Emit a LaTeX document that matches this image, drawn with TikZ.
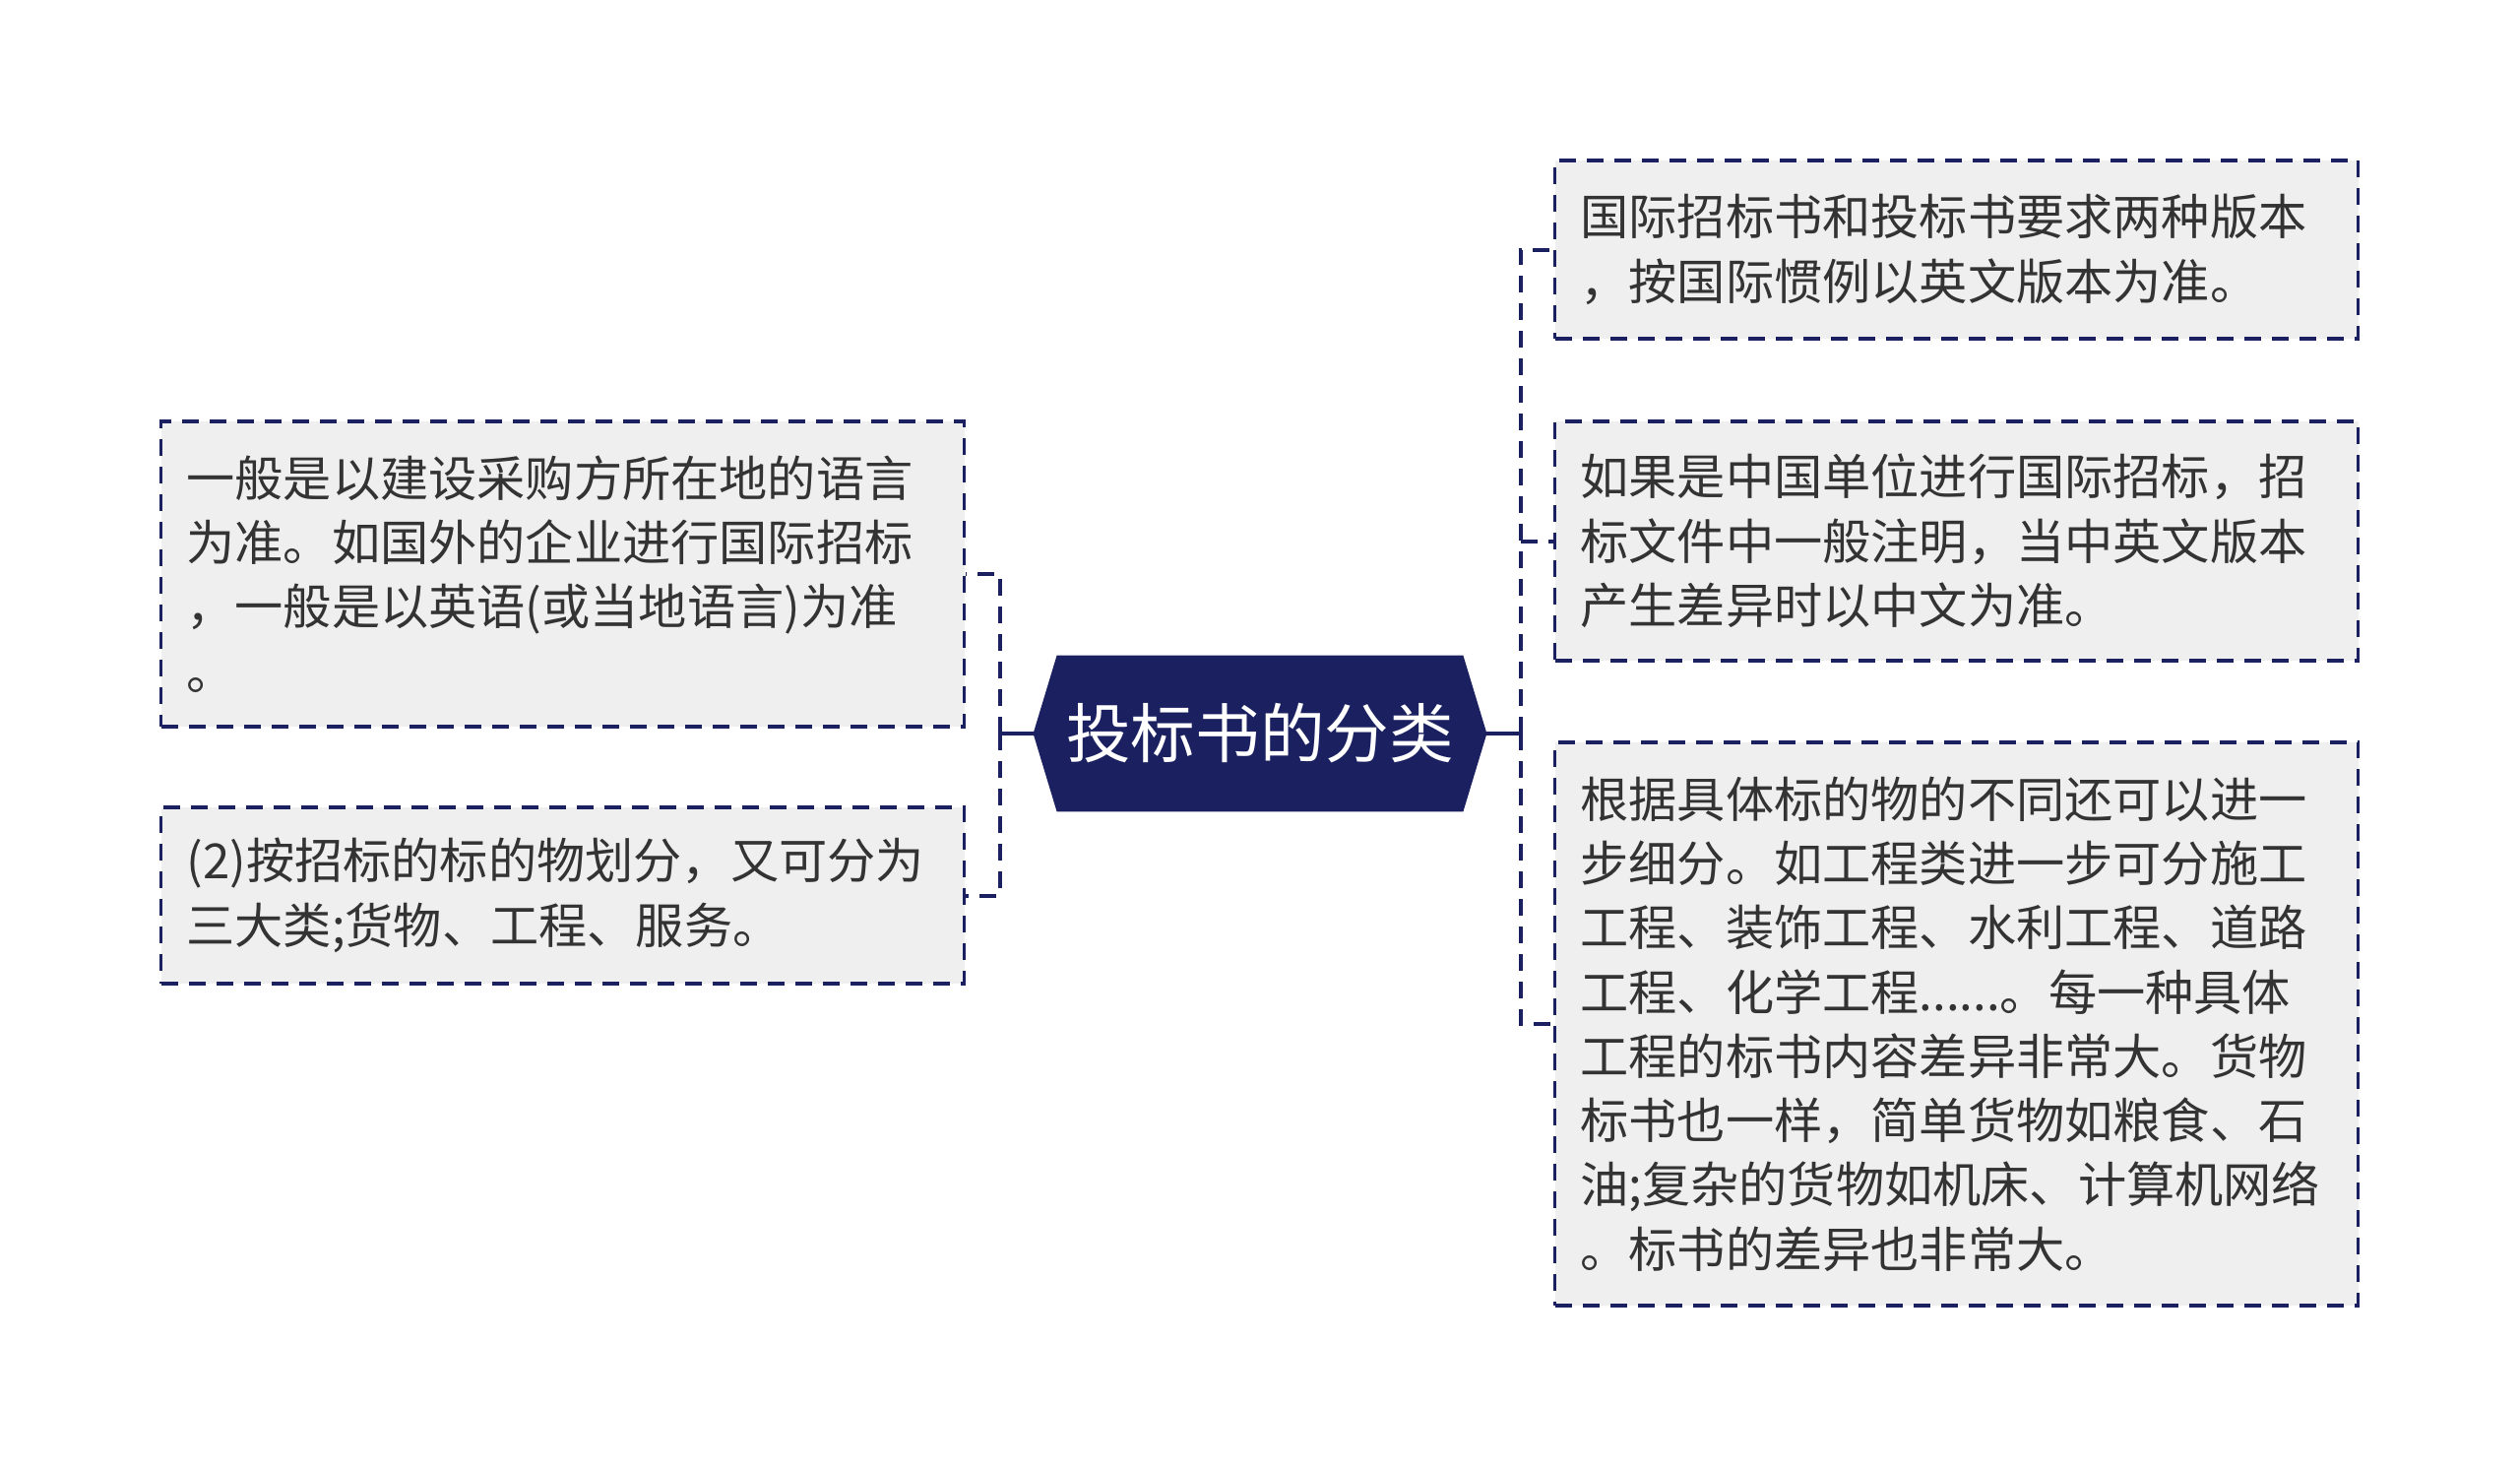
\documentclass[tikz,border=0pt]{standalone}
\usepackage{fontspec}
\newfontfamily\cjk{Noto Sans CJK SC}
\usetikzlibrary{calc}
\definecolor{navy}{HTML}{1B2160}
\definecolor{boxgray}{HTML}{EFEFEF}
\definecolor{txt}{HTML}{333333}

\begin{document}
\begin{tikzpicture}[x=0.5pt,y=-0.5pt,
    topic/.style={text=white, inner sep=0pt,
      minimum width=230pt, minimum height=79pt,
      font=\cjk\fontsize{32.8}{40}\selectfont},
    leaf/.style={draw=navy, line width=1.6pt, dash pattern=on 8.5pt off 5.5pt,
      fill=boxgray, text=txt, align=left, text width=382pt,
      inner xsep=13pt, inner ysep=0pt,
      font=\cjk\fontsize{24.6}{32.65}\selectfont},
    branch/.style={draw=navy, line width=2pt, dash pattern=on 8.5pt off 5.5pt},
    stem/.style={draw=navy, line width=2pt}]
      \useasboundingbox (0,0) rectangle (2560,1493);

      % central topic, hexagon filled behind the text
      \node[topic] (c) at (1280,745) {\phantom{投标书的分类}};
      \fill[navy] (c.west) -- ($(c.north west)+(24,0)$) -- ($(c.north east)+(-24,0)$)
        -- (c.east) -- ($(c.south east)+(-24,0)$) -- ($(c.south west)+(24,0)$) -- cycle;
      \node[topic] at (c) {投标书的分类};

      \node[leaf, minimum height=155pt] (l1) at (571.5,583)
        {一般是以建设采购方所在地的语言\\为准。如国外的企业进行国际招标\\，一般是以英语(或当地语言)为准\\。};
      \node[leaf, minimum height=89.5pt] (l2) at (571.5,909.5)
        {(2)按招标的标的物划分，又可分为\\三大类;货物、工程、服务。};

      \node[leaf, minimum height=90.5pt] (r1) at (1987.5,253.5)
        {国际招标书和投标书要求两种版本\\，按国际惯例以英文版本为准。};
      \node[leaf, minimum height=121.5pt] (r2) at (1987.5,549.5)
        {如果是中国单位进行国际招标，招\\标文件中一般注明，当中英文版本\\产生差异时以中文为准。};
      \node[leaf, minimum height=286pt] (r3) at (1987.5,1040)
        {根据具体标的物的不同还可以进一\\步细分。如工程类进一步可分施工\\工程、装饰工程、水利工程、道路\\工程、化学工程......。每一种具体\\工程的标书内容差异非常大。货物\\标书也一样，简单货物如粮食、石\\油;复杂的货物如机床、计算机网络\\。标书的差异也非常大。};

      \coordinate (jl) at (1015.5,745);
      \coordinate (jr) at (1544.5,745);

      \draw[stem] (c.west) -- (jl);
      \draw[stem] (c.east) -- (jr);
      \draw[branch] (jl) |- (l1.east);
      \draw[branch] (jl) |- (l2.east);
      \draw[branch] (jr) |- (r1.west);
      \draw[branch] (jr) |- (r2.west);
      \draw[branch] (jr) |- (r3.west);
    \end{tikzpicture}
\end{document}
